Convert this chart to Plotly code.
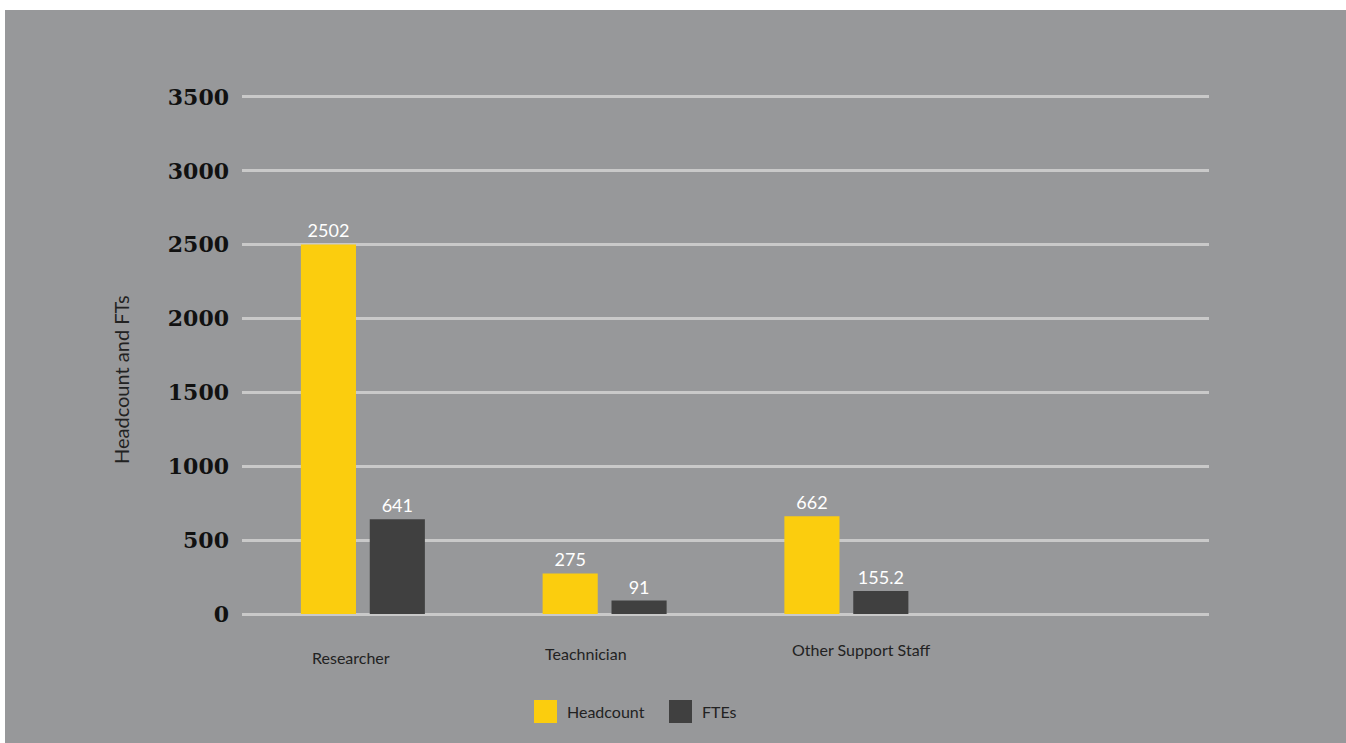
import plotly.graph_objects as go

categories = ["Researcher", "Teachnician", "Other Support Staff"]
headcount = [2502, 275, 662]
ftes = [641, 91, 155.2]
headcount_labels = ["2502", "275", "662"]
fte_labels = ["641", "91", "155.2"]
y_ticks = [0, 500, 1000, 1500, 2000, 2500, 3000, 3500]
series_names = ["Headcount", "FTEs"]

BG = "#97989a"
YELLOW = "#fbcd0e"
DARK = "#404040"
colors = [YELLOW, DARK]

W, H = 1346, 743
ML, MR, MT, MB = 242, 137, 94, 126
PW = W - ML - MR
PH = H - MT - MB


def px_x(p):
    return (p - ML) / PW


def px_y(p):
    return (H - MB - p) / PH


fig = go.Figure()
for name, vals, labels, col in zip(series_names, [headcount, ftes],
                                   [headcount_labels, fte_labels], colors):
    fig.add_trace(go.Bar(
        name=name, x=categories, y=vals, marker_color=col, marker_line_width=0,
        text=labels, textposition="outside",
        textfont=dict(color="white", size=18, family="Lato"), cliponaxis=False,
    ))

# white frame strips (top and left)
fig.add_shape(type="rect", xref="paper", yref="paper",
              x0=px_x(0), x1=px_x(W), y0=px_y(10), y1=px_y(0),
              fillcolor="white", line_width=0, layer="below")
fig.add_shape(type="rect", xref="paper", yref="paper",
              x0=px_x(0), x1=px_x(5), y0=px_y(H), y1=px_y(0),
              fillcolor="white", line_width=0, layer="below")

# category labels (slightly staggered as in the original)
label_shift = [-12, -19, 15]
label_y = [657, 653, 649]
for cat, dx, ly in zip(categories, label_shift, label_y):
    fig.add_annotation(xref="x", yref="paper", x=cat, y=px_y(ly), xshift=dx,
                       xanchor="center", yanchor="middle", text=cat, showarrow=False,
                       font=dict(family="Lato", size=16, color="#222222"))

# custom legend with large square swatches
legend_x = [534, 669]
for name, col, lx in zip(series_names, colors, legend_x):
    fig.add_shape(type="rect", xref="paper", yref="paper",
                  x0=px_x(lx), x1=px_x(lx + 23), y0=px_y(723), y1=px_y(700),
                  fillcolor=col, line_width=0)
    fig.add_annotation(xref="paper", yref="paper", x=px_x(lx + 31), y=px_y(711),
                       xanchor="left", yanchor="middle", text=name, showarrow=False,
                       font=dict(family="Lato", size=16, color="#222222"))

# y-axis title
fig.add_annotation(xref="paper", yref="paper", x=px_x(121), y=px_y(380),
                   xanchor="center", yanchor="middle", textangle=-90,
                   text="Headcount and FTs", showarrow=False,
                   font=dict(family="Lato", size=20, color="#222222"))

fig.update_layout(
    width=W, height=H,
    margin=dict(l=ML, r=MR, t=MT, b=MB),
    paper_bgcolor=BG, plot_bgcolor=BG,
    barmode="group", bargap=0.43, bargroupgap=0.2,
    showlegend=False,
    xaxis=dict(type="category", range=[-0.5, 3.5], showgrid=False, showline=False,
               zeroline=False, ticks="", showticklabels=False),
    yaxis=dict(range=[-20, 3520], tickvals=y_ticks, showgrid=True,
               gridcolor="#c9c9c9", gridwidth=2.5, zeroline=False, showline=False,
               ticks="", ticklabelstandoff=12,
               tickfont=dict(family="DejaVu Serif", size=22, color="#111111",
                             weight="bold")),
    font=dict(family="Lato"),
)

fig.write_html("out.html", config={"displayModeBar": False},
               post_script="document.body.style.margin='0';")
